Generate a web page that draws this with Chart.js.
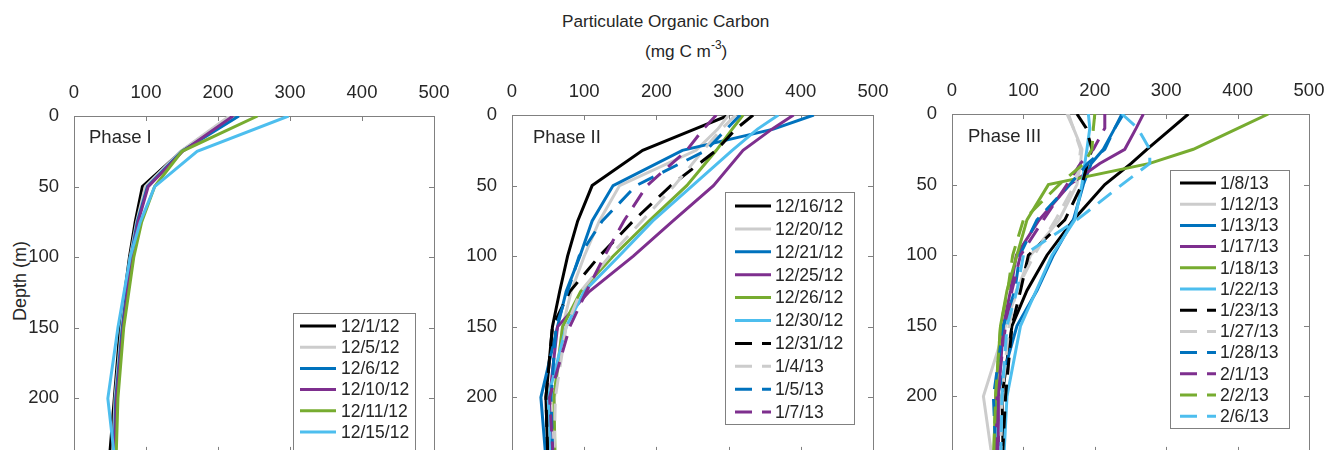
<!DOCTYPE html>
<html><head><meta charset="utf-8">
<script src="https://cdn.jsdelivr.net/npm/chart.js@4.4.1/dist/chart.umd.min.js"></script>
<style>
html,body{margin:0;padding:0;background:#fff;overflow:hidden;width:1336px;height:450px;}
#wrap{position:relative;width:1336px;height:450px;overflow:hidden;font-family:'Liberation Sans',Arial,sans-serif;color:#262626;background:#fff}
canvas{position:absolute;top:0}
.t{position:absolute;white-space:nowrap;line-height:17px}
</style></head><body><div id="wrap">
<div class="t" style="left:562px;top:13px;font-size:17.2px">Particulate Organic Carbon</div>
<div class="t" style="left:645px;top:43px;font-size:17.2px">(mg C m<span style="font-size:12px;position:relative;top:-8px">-3</span>)</div>
<div class="t" style="left:20px;top:281px;font-size:18px;line-height:18px;transform:translate(-50%,-50%) rotate(-90deg)">Depth (m)</div>
<canvas id="c1"></canvas>
<canvas id="c2"></canvas>
<canvas id="c3"></canvas>
</div>
<script>
// ---------- DATA ----------
const X_TICKS = [0, 100, 200, 300, 400, 500];
const Y_TICKS = [0, 50, 100, 150, 200];

const DEPTH_I   = [0, 25, 50, 75, 100, 150, 200, 250];
const DEPTH_II  = [0, 10, 25, 50, 75, 100, 125, 150, 200, 250];
const DEPTH_III = [0, 10, 25, 35, 50, 75, 100, 125, 150, 200, 250];

const DATES_I = ['12/1/12', '12/5/12', '12/6/12', '12/10/12', '12/11/12', '12/15/12'];
const POC_I = [
  [218, 149, 95, 85, 77, 64, 56, 48],
  [216, 148, 99, 87, 78, 66, 57, 53],
  [229, 150, 102, 88, 79, 67, 58, 55],
  [221, 151, 103, 89, 80, 68, 59, 56],
  [255, 150, 112, 94, 83, 69, 61, 58],
  [298, 171, 112, 92, 78, 61, 47, 58]
];

const DATES_II = ['12/16/12', '12/20/12', '12/21/12', '12/25/12', '12/26/12', '12/30/12', '12/31/12', '1/4/13', '1/5/13', '1/7/13'];
const POC_II = [
  [301, 253, 181, 111, 91, 77, 66, 56, 47, 50],
  [300, 285, 255, 149, 121, 100, 82, 70, 59, 57],
  [418, 362, 236, 140, 111, 94, 75, 63, 40, 48],
  [390, 360, 320, 279, 223, 168, 107, 63, 52, 55],
  [320, 305, 283, 242, 190, 140, 95, 70, 58, 60],
  [369, 340, 305, 250, 195, 148, 100, 75, 50, 55],
  [334, 310, 283, 220, 168, 121, 80, 56, 47, 50],
  [310, 290, 265, 225, 180, 135, 95, 75, 60, 58],
  [316, 297, 269, 172, 125, 93, 77, 61, 54, 57],
  [283, 265, 242, 187, 155, 128, 103, 80, 52, 58]
];

const DATES_III = ['1/8/13', '1/12/13', '1/13/13', '1/17/13', '1/18/13', '1/22/13', '1/23/13', '1/27/13', '1/28/13', '2/1/13', '2/2/13', '2/6/13'];
const POC_III = [
  [331, 308, 273, 251, 214, 170, 133, 105, 84, 70, 72],
  [163, 170, 182, 180, 175, 150, 110, 91, 75, 44, 58],
  [238, 228, 212, 195, 184, 170, 142, 119, 91, 63, 66],
  [268, 258, 242, 207, 165, 122, 90, 82, 72, 65, 65],
  [443, 401, 338, 277, 135, 105, 91, 77, 68, 61, 58],
  [191, 193, 189, 186, 182, 172, 140, 118, 96, 77, 72],
  [175, 188, 196, 190, 182, 158, 107, 96, 84, 75, 70],
  [161, 170, 180, 178, 172, 145, 115, 90, 80, 70, 68],
  [240, 228, 214, 190, 165, 119, 95, 88, 72, 58, 62],
  [214, 214, 198, 180, 161, 128, 96, 84, 75, 63, 62],
  [200, 198, 196, 185, 150, 100, 85, 78, 68, 61, 58],
  [238, 260, 277, 277, 238, 175, 100, 91, 77, 70, 68]
];

// ---------- STYLE ----------
const COLORS = ['#000000', '#cccccc', '#0072bd', '#7e2f8e', '#77ac30', '#4dbeee'];
const DASH = [17, 10];
const FONT = "'Liberation Sans', Arial, sans-serif";
const TEXT = '#262626';
const PX_PER_M = 70.6 / 50;

const panels = [
  {id: 'c1', left: 74, right: 434, top: 116, depths: DEPTH_I, dates: DATES_I, values: POC_I,
   phase: 'Phase I', phaseX: 89, phaseY: 143,
   legend: {x: 293, y: 313, w: 122, h: 140, row0: 326, rowH: 21.2, s0: 300, s1: 336, tx: 341}},
  {id: 'c2', left: 512, right: 873, top: 115, depths: DEPTH_II, dates: DATES_II, values: POC_II,
   phase: 'Phase II', phaseX: 533, phaseY: 143,
   legend: {x: 725, y: 192, w: 129, h: 232, row0: 206, rowH: 22.9, s0: 735, s1: 771, tx: 775}},
  {id: 'c3', left: 952, right: 1309, top: 114, depths: DEPTH_III, dates: DATES_III, values: POC_III,
   phase: 'Phase III', phaseX: 968, phaseY: 142,
   legend: {x: 1170, y: 170, w: 119, h: 258, row0: 183, rowH: 21.2, s0: 1180, s1: 1216, tx: 1220}}
];

const Y_AXIS_W = 70, RIGHT_PAD = 25, CANVAS_H = 470, BOTTOM_PAD = 15;

const boxPlugin = {
  id: 'matlabBox',
  beforeDatasetsDraw(chart) {
    const {ctx, chartArea: a, scales} = chart;
    ctx.save();
    ctx.strokeStyle = '#808080';
    ctx.lineWidth = 1;
    ctx.setLineDash([]);
    ctx.strokeRect(Math.round(a.left) + 0.5, Math.round(a.top) + 0.5,
                   Math.round(a.right - a.left), Math.round(a.bottom - a.top));
    ctx.beginPath();
    X_TICKS.forEach(v => {
      const px = Math.round(scales.x.getPixelForValue(v)) + 0.5;
      ctx.moveTo(px, a.top); ctx.lineTo(px, a.top + 5);
      ctx.moveTo(px, a.bottom); ctx.lineTo(px, a.bottom - 5);
    });
    Y_TICKS.forEach(v => {
      const py = Math.round(scales.y.getPixelForValue(v)) + 0.5;
      ctx.moveTo(a.left, py); ctx.lineTo(a.left + 5, py);
      ctx.moveTo(a.right, py); ctx.lineTo(a.right - 5, py);
    });
    ctx.stroke();
    ctx.restore();
  },
  afterDraw(chart) {
    const o = chart.options.plugins.matlabBox;
    const ctx = chart.ctx;
    const off = o.canvasLeft;
    ctx.save();
    ctx.fillStyle = TEXT;
    ctx.font = '18.5px ' + FONT;
    ctx.textBaseline = 'alphabetic';
    ctx.textAlign = 'left';
    ctx.fillText(o.phase, o.phaseX - off, o.phaseY);
    const L = o.legend;
    ctx.fillStyle = '#ffffff';
    ctx.fillRect(L.x - off, L.y, L.w, L.h);
    ctx.strokeStyle = '#808080';
    ctx.lineWidth = 1;
    ctx.strokeRect(L.x - off + 0.5, L.y + 0.5, L.w, L.h);
    ctx.font = '17.5px ' + FONT;
    ctx.textBaseline = 'middle';
    chart.data.datasets.forEach((ds, i) => {
      const y = L.row0 + i * L.rowH;
      ctx.beginPath();
      ctx.strokeStyle = ds.borderColor;
      ctx.lineWidth = 3;
      ctx.setLineDash(ds.borderDash || []);
      ctx.moveTo(L.s0 - off, y);
      ctx.lineTo(L.s1 - off, y);
      ctx.stroke();
      ctx.setLineDash([]);
      ctx.fillStyle = TEXT;
      ctx.fillText(ds.label, L.tx - off, y + 1);
    });
    ctx.restore();
  }
};

panels.forEach(p => {
  const cv = document.getElementById(p.id);
  const canvasLeft = p.left - Y_AXIS_W;
  const w = (p.right - p.left) + Y_AXIS_W + RIGHT_PAD;
  cv.width = w; cv.height = CANVAS_H;
  cv.style.left = canvasLeft + 'px';
  cv.style.width = w + 'px'; cv.style.height = CANVAS_H + 'px';

  const datasets = p.dates.map((label, i) => {
    const dashed = i >= COLORS.length;
    return {
      label,
      data: p.depths.map((d, j) => ({x: p.values[i][j], y: d})),
      borderColor: COLORS[i % COLORS.length],
      backgroundColor: COLORS[i % COLORS.length],
      borderWidth: 3,
      borderDash: dashed ? DASH : [],
      showLine: true,
      pointRadius: 0,
      tension: 0,
      order: p.dates.length - i
    };
  });

  const chart = new Chart(cv, {
    type: 'scatter',
    data: {datasets},
    plugins: [boxPlugin],
    options: {
      responsive: false,
      animation: false,
      devicePixelRatio: 1,
      layout: {padding: {left: 0, right: RIGHT_PAD, top: 0, bottom: BOTTOM_PAD}},
      plugins: {
        legend: {display: false},
        tooltip: {enabled: false},
        matlabBox: {canvasLeft, phase: p.phase, phaseX: p.phaseX, phaseY: p.phaseY, legend: p.legend}
      },
      scales: {
        x: {
          type: 'linear', position: 'top', min: 0, max: 500,
          grid: {display: false}, border: {display: false},
          ticks: {stepSize: 100, padding: 4, color: TEXT, font: {family: FONT, size: 18.5}, maxRotation: 0},
          afterBuildTicks: s => { s.ticks = X_TICKS.map(v => ({value: v})); },
          afterFit: s => { s.height = p.top; }
        },
        y: {
          type: 'linear', position: 'left', reverse: true, min: 0, max: 240,
          grid: {display: false}, border: {display: false},
          ticks: {padding: 7, color: TEXT, font: {family: FONT, size: 18.5}},
          afterBuildTicks: s => { s.ticks = Y_TICKS.map(v => ({value: v})); },
          afterFit: s => { s.width = Y_AXIS_W; }
        }
      }
    }
  });
  // match the reference's vertical scale (px per metre) to the real plot height
  const a = chart.chartArea;
  chart.options.scales.y.max = (a.bottom - a.top) / PX_PER_M;
  chart.update();
});
</script>
</body></html>
